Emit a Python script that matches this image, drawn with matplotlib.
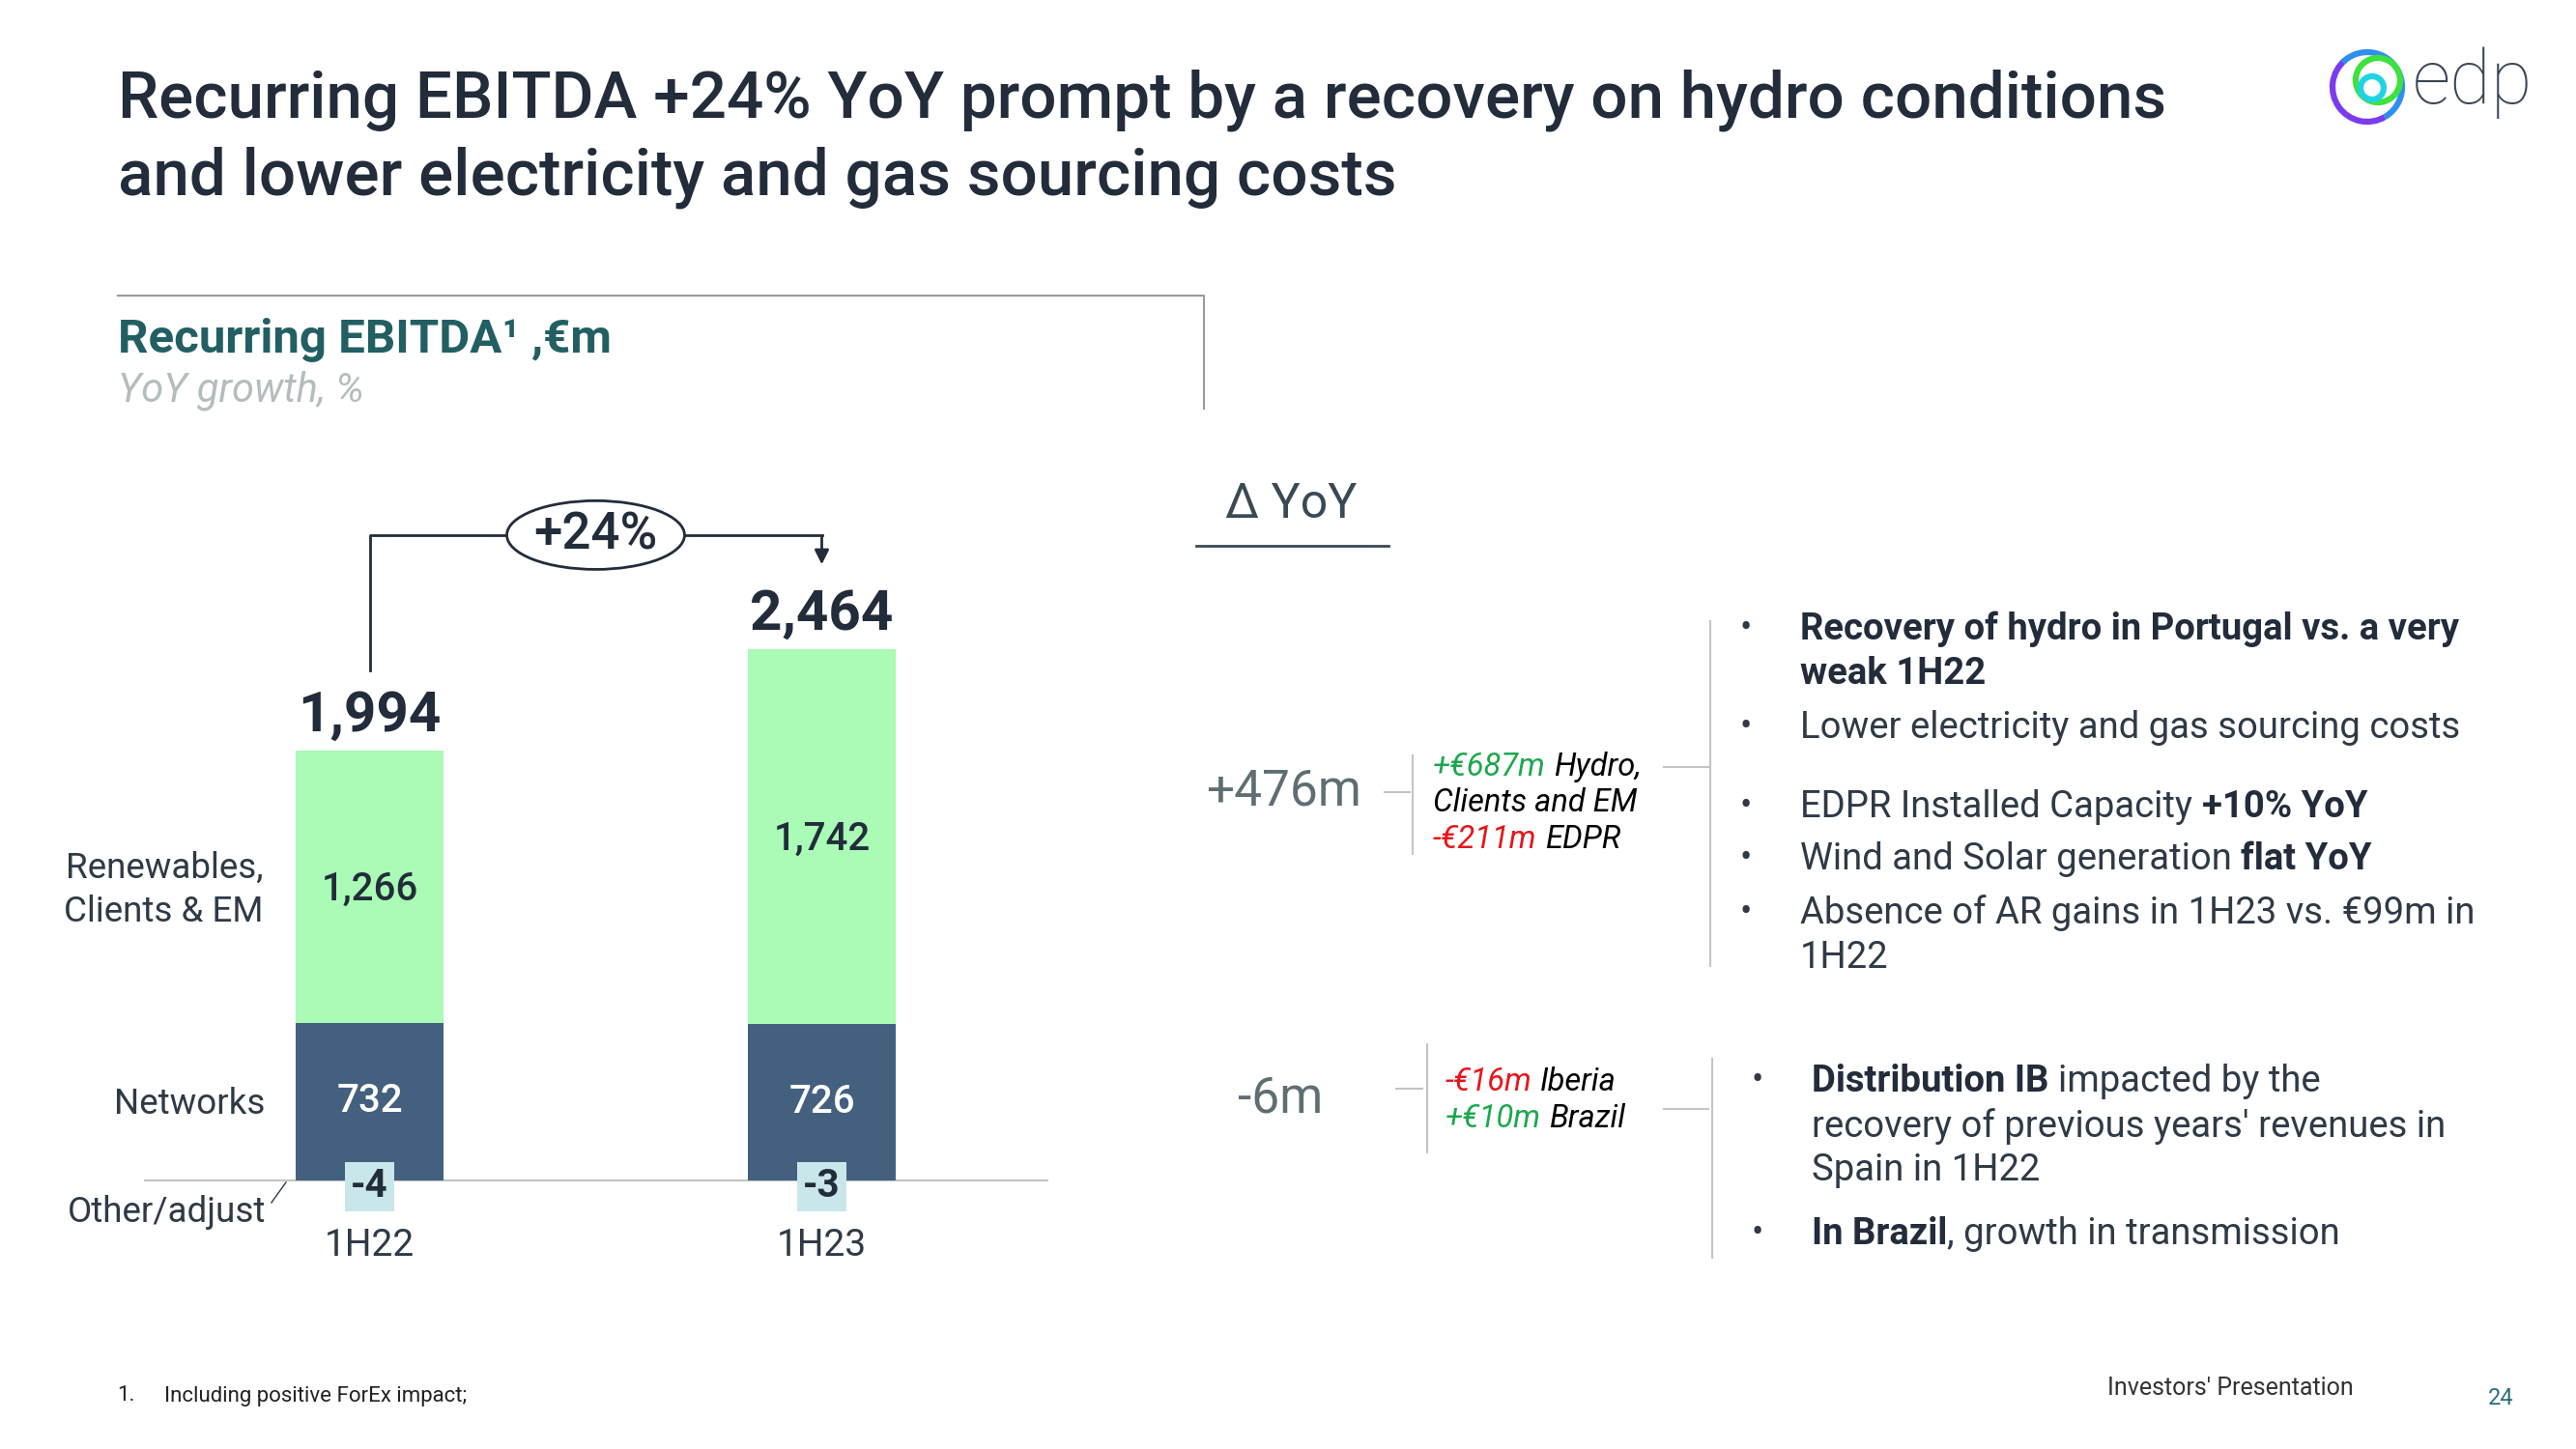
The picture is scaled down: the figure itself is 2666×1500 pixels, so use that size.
import matplotlib
matplotlib.use("Agg")
import matplotlib.pyplot as plt
from matplotlib.patches import Ellipse, Circle, Arc

# data (EUR m)
categories = ["1H22", "1H23"]
networks = [732, 726]
renewables = [1266, 1742]
other_adjust = [-4, -3]
totals = [1994, 2464]
growth_label = "+24%"

W, H = 2666, 1500
plt.rcParams["font.family"] = ["Roboto", "DejaVu Sans"]

DARK = "#222c3a"
TEXT = "#2f3a46"
GREEN_BAR = "#a9fbb5"
BLUE_BAR = "#44607f"
BOX = "#c9e6eb"
LINE = "#c4c4c4"
TEAL = "#225f63"
POS = "#1ba84e"
NEG = "#e8141b"

fig = plt.figure(figsize=(W / 100, H / 100), dpi=100)

# overlay axes in pixel units (origin top-left) for the slide furniture
ov = fig.add_axes([0, 0, 1, 1])
ov.set_xlim(0, W)
ov.set_ylim(H, 0)
ov.axis("off")

# ---- bar chart axes, placed so the bars land where they are on the slide
k = 0.2227          # pixels per EUR m
x0px, step, y0px = 382.5, 468, 1222
xlim = (-0.5, 1.5)
ylim = (-200, 3200)
left = (x0px + xlim[0] * step) / W
width = (xlim[1] - xlim[0]) * step / W
bottom = (H - (y0px - ylim[0] * k)) / H
height = (ylim[1] - ylim[0]) * k / H
ax = fig.add_axes([left, bottom, width, height])
ax.patch.set_alpha(0)
ax.set_xlim(*xlim)
ax.set_ylim(*ylim)
for s in ax.spines.values():
    s.set_visible(False)
ax.set_yticks([])

x = list(range(len(categories)))
bw = 0.327
ax.bar(x, networks, width=bw, color=BLUE_BAR, zorder=2)
ax.bar(x, renewables, width=bw, bottom=networks, color=GREEN_BAR, zorder=2)
ax.axhline(0, color=LINE, lw=1.5, zorder=1)

ax.set_xticks(x, categories)
ax.tick_params(axis="x", length=0, pad=3, labelsize=28, labelcolor=TEXT)

for i in x:
    ax.text(i, networks[i] / 2, f"{networks[i]:,}", ha="center", va="center",
            color="white", fontsize=29, fontweight="medium", zorder=3)
    ax.text(i, networks[i] + renewables[i] / 2 - 12, f"{renewables[i]:,}", ha="center",
            va="center", color=DARK, fontsize=29, fontweight="medium", zorder=3)
    ax.text(i, -28, f"{other_adjust[i]}", ha="center", va="center", color=DARK,
            fontsize=29, fontweight="bold", zorder=4,
            bbox=dict(boxstyle="square,pad=0.16", fc=BOX, ec="none"))
    ax.annotate(f"{totals[i]:,}", xy=(i, networks[i] + renewables[i]), xytext=(0, 6),
                textcoords="offset points", ha="center", va="bottom",
                fontsize=42, fontweight="bold", color=DARK)

# series labels on the left
ax.text(-0.236, networks[0] + renewables[0] / 2 - 15, "Renewables,\nClients & EM", ha="right",
        va="center", fontsize=26.5, color=TEXT, multialignment="right", linespacing=1.3)
ax.text(-0.23, networks[0] / 2 - 10, "Networks", ha="right", va="center", fontsize=26.5,
        color=TEXT)
ax.text(-0.23, -150, "Other/adjust", ha="right", va="center", fontsize=26.5, color=TEXT)
ax.plot([-0.217, -0.185], [-103, -9], color=TEXT, lw=1)

# growth connector
top_y = 3000
ell_w, ell_h = 0.393, 319
ax.plot([0, 0, 0.5 - ell_w / 2], [2370, top_y, top_y], color=DARK, lw=2)
ax.plot([0.5 + ell_w / 2, 1], [top_y, top_y], color=DARK, lw=2)
ax.annotate("", xy=(1, 2851), xytext=(1, top_y + 4),
            arrowprops=dict(arrowstyle="-|>", color=DARK, lw=2, mutation_scale=22))
ax.add_patch(Ellipse((0.5, top_y), ell_w, ell_h, fc="white", ec=DARK, lw=2, zorder=3))
ax.text(0.5, top_y, growth_label, ha="center", va="center", fontsize=38,
        fontweight="medium", color=DARK, zorder=4)

# ---- title
ov.text(122, 104, "Recurring EBITDA +24% YoY prompt by a recovery on hydro conditions",
        fontsize=48.5, fontweight="medium", color=DARK, va="center")
ov.text(122, 184, "and lower electricity and gas sourcing costs",
        fontsize=48.5, fontweight="medium", color=DARK, va="center")

# logo
ov.add_patch(Arc((2450, 90), 72, 72, theta1=60, theta2=230, color="#7b3cf0", lw=4.5))
ov.add_patch(Arc((2450, 90), 72, 72, theta1=225, theta2=420, color="#2f8ff0", lw=4.5))
ov.add_patch(Circle((2461, 83), 23, fc="none", ec="#3ee23c", lw=4.5))
ov.add_patch(Circle((2455, 91), 12, fc="none", ec="#22d3e6", lw=4.5))
ov.text(2497, 107, "edp", fontsize=56, fontweight="light", color="#3a4656", va="baseline")

# chart box
ov.plot([122, 1246, 1246], [306, 306, 423], color="#9a9a9a", lw=1.5)
ov.text(122, 352, "Recurring EBITDA\u00b9 ,\u20acm", fontsize=35.5, fontweight="bold",
        color=TEAL, va="center")
ov.text(122, 404, "YoY growth, %", fontsize=30, fontstyle="italic", color="#b4bdbe",
        va="center")

renderer = fig.canvas.get_renderer()


def seg_line(x, y, parts, size, style="normal"):
    # parts starting with a space get a word gap before them
    space = 0.25 * size * 100 / 72
    for txt, color, weight in parts:
        if txt.startswith(" "):
            x += space
        t = ov.text(x, y, txt.strip(), color=color, fontsize=size, fontweight=weight,
                    fontstyle=style, va="center", ha="left")
        x += t.get_window_extent(renderer).width


# ---- delta YoY column
ov.text(1336, 522, "\u2206 YoY", fontsize=36, color="#3a4a55", ha="center", va="center")
ov.plot([1238, 1437], [565, 565], color="#3a4a55", lw=2)

ov.text(1328, 820, "+476m", fontsize=37, color="#5e6e72", ha="center", va="center")
ov.plot([1433, 1459], [820, 820], color=LINE, lw=1.5)
ov.plot([1462, 1462], [782, 884], color=LINE, lw=1.5)
IS = 23.5
seg_line(1483, 794, [("+\u20ac687m", POS, "normal"), (" Hydro,", "black", "normal")], IS, "italic")
seg_line(1483, 831, [("Clients and EM", "black", "normal")], IS, "italic")
seg_line(1483, 869, [("-\u20ac211m", NEG, "normal"), (" EDPR", "black", "normal")], IS, "italic")
ov.plot([1722, 1768], [794, 794], color=LINE, lw=1.5)
ov.plot([1770, 1770], [643, 1000], color=LINE, lw=1.5)

ov.text(1325, 1137, "-6m", fontsize=37, color="#5e6e72", ha="center", va="center")
ov.plot([1445, 1472], [1127, 1127], color=LINE, lw=1.5)
ov.plot([1477, 1477], [1081, 1193], color=LINE, lw=1.5)
seg_line(1496, 1120, [("-\u20ac16m", NEG, "normal"), (" Iberia", "black", "normal")], IS, "italic")
seg_line(1496, 1158, [("+\u20ac10m", POS, "normal"), (" Brazil", "black", "normal")], IS, "italic")
ov.plot([1722, 1768], [1148, 1148], color=LINE, lw=1.5)
ov.plot([1772, 1772], [1096, 1302], color=LINE, lw=1.5)

# bullets
BS = 27.5
for by in [651, 753, 835, 889, 945]:
    ov.text(1807, by, "\u2022", fontsize=26, color=TEXT, ha="center", va="center")
for by in [1119, 1277]:
    ov.text(1819, by, "\u2022", fontsize=26, color=TEXT, ha="center", va="center")

seg_line(1863, 651, [("Recovery of hydro in Portugal vs. a very", DARK, "bold")], BS)
seg_line(1863, 697, [("weak 1H22", DARK, "bold")], BS)
seg_line(1863, 753, [("Lower electricity and gas sourcing costs", TEXT, "normal")], BS)
seg_line(1863, 835, [("EDPR Installed Capacity", TEXT, "normal"), (" +10% YoY", DARK, "bold")], BS)
seg_line(1863, 889, [("Wind and Solar generation", TEXT, "normal"), (" flat YoY", DARK, "bold")], BS)
seg_line(1863, 945, [("Absence of AR gains in 1H23 vs. \u20ac99m in", TEXT, "normal")], BS)
seg_line(1863, 991, [("1H22", TEXT, "normal")], BS)

seg_line(1875, 1119, [("Distribution IB", DARK, "bold"), (" impacted by the", TEXT, "normal")], BS)
seg_line(1875, 1166, [("recovery of previous years' revenues in", TEXT, "normal")], BS)
seg_line(1875, 1212, [("Spain in 1H22", TEXT, "normal")], BS)
seg_line(1875, 1277, [("In Brazil", DARK, "bold"), (", growth in transmission", TEXT, "normal")], BS)

# footer
ov.text(121, 1445, "1.", fontsize=16, color="#222222", va="center")
ov.text(170, 1445, "Including positive ForEx impact;", fontsize=16, color="#222222", va="center")
ov.text(2181, 1437, "Investors' Presentation", fontsize=18, color="#333333", va="center")
ov.text(2588, 1447, "24", fontsize=17, color="#2a6f7a", ha="center", va="center")

fig.savefig("out.png", dpi=100)
